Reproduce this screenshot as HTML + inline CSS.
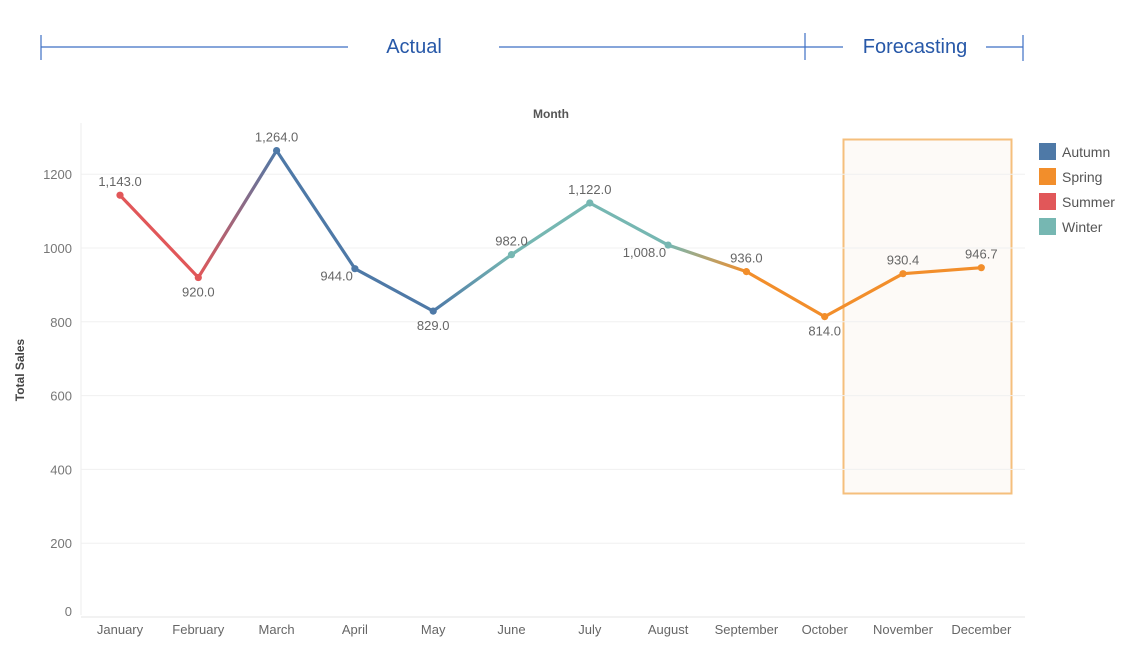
<!DOCTYPE html>
<html><head><meta charset="utf-8"><style>
html,body{margin:0;padding:0;background:#fff;}
body{width:1145px;height:662px;overflow:hidden;font-family:"Liberation Sans",sans-serif;}
svg{display:block}
</style></head><body>
<svg id="chart" width="1145" height="662" viewBox="0 0 1145 662" xmlns="http://www.w3.org/2000/svg">
<g stroke="#3d6fc4" stroke-width="1.2">
<line x1="41" y1="35" x2="41" y2="60"/><line x1="41" y1="47" x2="348" y2="47"/>
<line x1="499" y1="47" x2="843" y2="47"/><line x1="805" y1="33" x2="805" y2="60"/>
<line x1="986" y1="47" x2="1023" y2="47"/><line x1="1023" y1="35" x2="1023" y2="61"/>
</g>
<text x="414" y="53" text-anchor="middle" font-size="20" fill="#2758a8">Actual</text>
<text x="915" y="53" text-anchor="middle" font-size="20" fill="#2758a8">Forecasting</text>
<text x="551" y="118" text-anchor="middle" font-size="12" font-weight="bold" fill="#555">Month</text>
<text transform="translate(24,370) rotate(-90)" text-anchor="middle" font-size="12" font-weight="bold" fill="#444">Total Sales</text>
<rect x="843.5" y="139.5" width="168" height="354" fill="#fdfaf7" stroke="#f5bf7c" stroke-width="2"/>
<line x1="81" y1="123" x2="81" y2="615" stroke="#ececec"/>
<g id="grid"></g><g id="ylabels"></g><g id="xlabels"></g><g id="lines"></g><g id="points"></g><g id="vlabels"></g>
<g id="legend"></g>
<defs id="defs"></defs>
</svg>
<script>
const months=["January","February","March","April","May","June","July","August","September","October","November","December"];
const sales=[1143,920,1264,944,829,982,1122,1008,936,814,930.4,946.7];
const seasons=["Summer","Summer","Autumn","Autumn","Autumn","Winter","Winter","Winter","Spring","Spring","Spring","Spring"];
const valueLabels=["1,143.0","920.0","1,264.0","944.0","829.0","982.0","1,122.0","1,008.0","936.0","814.0","930.4","946.7"];
const labelSide=["above","below","above","left","below","above","above","left","above","below","above","above"];
const yTicks=[0,200,400,600,800,1000,1200];
const legendNames=["Autumn","Spring","Summer","Winter"];
const colors={Autumn:"#4e79a7",Spring:"#f28e2b",Summer:"#e15759",Winter:"#76b7b2"};
const NS="http://www.w3.org/2000/svg";
function x(i){return 120+i*78.3;}
function y(v){return 617-v*0.369;}
function mk(tag,attrs,parent){const e=document.createElementNS(NS,tag);for(const k in attrs)e.setAttribute(k,attrs[k]);document.getElementById(parent).appendChild(e);return e;}
yTicks.forEach(t=>{
 const g=mk('line',{x1:81,x2:1025,y1:y(t),y2:y(t),stroke:t===0?'#e4e4e4':'#f0f0f0'},'grid');
 
 
 const l=mk('text',{x:72,y:(t===0?y(t)-6:y(t))+5,'text-anchor':'end','font-size':13,fill:'#777'},'ylabels');
 l.textContent=t;
 
 
});
months.forEach((m,i)=>{
 const l=mk('text',{x:x(i),y:634,'text-anchor':'middle','font-size':13,fill:'#666'},'xlabels');
 l.textContent=m;
 
 
});
for(let i=0;i<sales.length-1;i++){
 let stroke=colors[seasons[i]];
 if(seasons[i]!==seasons[i+1]){
  const gid='g'+i;
  const gr=mk('linearGradient',{id:gid,gradientUnits:'userSpaceOnUse',x1:x(i),y1:y(sales[i]),x2:x(i+1),y2:y(sales[i+1])},'defs');
  const s1=document.createElementNS(NS,'stop');s1.setAttribute('offset','0');s1.setAttribute('stop-color',colors[seasons[i]]);gr.appendChild(s1);
  const s2=document.createElementNS(NS,'stop');s2.setAttribute('offset','1');s2.setAttribute('stop-color',colors[seasons[i+1]]);gr.appendChild(s2);
  stroke='url(#'+gid+')';
 }
 const ln=mk('line',{x1:x(i),y1:y(sales[i]),x2:x(i+1),y2:y(sales[i+1]),stroke:stroke,'stroke-width':3.2,'stroke-linecap':'round'},'lines');
 
 
}
sales.forEach((v,i)=>{
 const c=mk('circle',{cx:x(i),cy:y(v),r:3.6,fill:colors[seasons[i]]},'points');
 
 
 let tx=x(i),ty=y(v)-9,anc='middle';
 if(labelSide[i]==='below')ty=y(v)+19;
 if(labelSide[i]==='left'){tx=x(i)-2;ty=y(v)+12;anc='end';}
 const t=mk('text',{x:tx,y:ty,'text-anchor':anc,'font-size':13,fill:'#666'},'vlabels');
 t.textContent=valueLabels[i];
 
 
});
legendNames.forEach((n,i)=>{
 const r=mk('rect',{x:1039,y:143+i*25,width:17,height:17,fill:colors[n]},'legend');
 
 
 const t=mk('text',{x:1062,y:157+i*25,'font-size':14,fill:'#555'},'legend');
 t.textContent=n;
 
 
});
</script>
</body></html>
